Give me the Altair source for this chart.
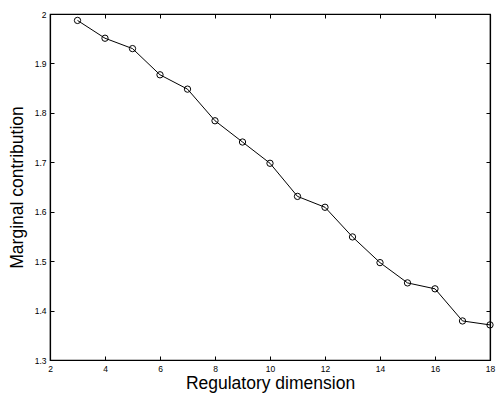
import altair as alt
import pandas as pd

dims = [3, 4, 5, 6, 7, 8, 9, 10, 11, 12, 13, 14, 15, 16, 17, 18]
contrib = [1.987, 1.951, 1.930, 1.877, 1.848, 1.784, 1.741, 1.698,
           1.631, 1.609, 1.549, 1.497, 1.456, 1.444, 1.379, 1.371]
x_ticks = [2, 4, 6, 8, 10, 12, 14, 16, 18]
y_ticks = [1.3, 1.4, 1.5, 1.6, 1.7, 1.8, 1.9, 2.0]

df = pd.DataFrame({"d": dims, "c": contrib})

FONT = "Liberation Sans"
TS = 4
W, H = 440, 346

xs = alt.Scale(domain=[2, 18], nice=False, zero=False)
ys = alt.Scale(domain=[1.3, 2.0], nice=False, zero=False)

x_bottom = alt.Axis(orient="bottom", values=x_ticks, offset=-TS, tickSize=TS, domain=False,
                    labelPadding=4, labelFontSize=8.5, labelFont=FONT, labelColor="black",
                    tickColor="black", grid=False, title="Regulatory dimension",
                    titleFont=FONT, titleFontSize=17.5, titleFontWeight="normal",
                    titleColor="black", titlePadding=2, labelFlush=False)
y_left = alt.Axis(orient="left", values=y_ticks, offset=-TS, tickSize=TS, domain=False,
                  labelPadding=4, labelFontSize=8.5, labelFont=FONT, labelColor="black",
                  tickColor="black", grid=False, title="Marginal contribution",
                  titleFont=FONT, titleFontSize=17.5, titleFontWeight="normal",
                  titleColor="black", titlePadding=8, labelFlush=False,
                  labelExpr="datum.value == 2 ? '2' : format(datum.value, '.1f')")
x_top = alt.Axis(orient="top", values=x_ticks, offset=-TS, tickSize=TS, domain=False,
                 labels=False, tickColor="black", grid=False, title=None)
y_right = alt.Axis(orient="right", values=y_ticks, offset=-TS, tickSize=TS, domain=False,
                   labels=False, tickColor="black", grid=False, title=None)


def box_axis(orient):
    # axis line only, at the plot edge (draws one side of the box)
    return alt.Axis(orient=orient, offset=0, domain=True, domainColor="black",
                    domainWidth=1.2, ticks=False, labels=False, grid=False, title=None)


base = alt.Chart(df)

line = base.mark_line(color="black", strokeWidth=1).encode(
    x=alt.X("d:Q", scale=xs, axis=x_bottom),
    y=alt.Y("c:Q", scale=ys, axis=y_left),
)
pts = base.mark_point(shape="circle", filled=False, color="black", size=40, strokeWidth=1, opacity=1).encode(
    x=alt.X("d:Q", scale=xs, axis=x_top),
    y=alt.Y("c:Q", scale=ys, axis=y_right),
)
box_bl = base.mark_point(opacity=0).encode(
    x=alt.X("d:Q", scale=xs, axis=box_axis("bottom")),
    y=alt.Y("c:Q", scale=ys, axis=box_axis("left")),
)
box_tr = base.mark_point(opacity=0).encode(
    x=alt.X("d:Q", scale=xs, axis=box_axis("top")),
    y=alt.Y("c:Q", scale=ys, axis=box_axis("right")),
)

chart = alt.layer(line, pts, box_bl, box_tr).resolve_axis(x="independent", y="independent").properties(
    width=W, height=H,
    background="white",
    autosize=alt.AutoSizeParams(type="none"),
    padding={"left": 50, "top": 14, "right": 7, "bottom": 36},
).configure_view(stroke="black", strokeWidth=1.2)

chart.save("out.html", embed_options={"renderer": "svg", "actions": False})
